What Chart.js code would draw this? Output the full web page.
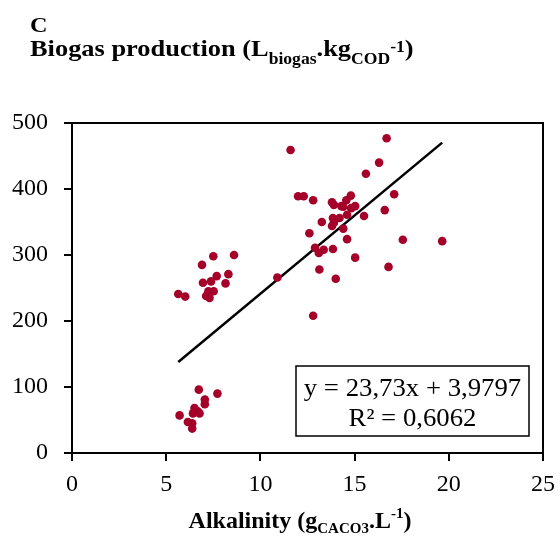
<!DOCTYPE html>
<html>
<head>
<meta charset="utf-8">
<script src="https://cdn.jsdelivr.net/npm/chart.js@4"></script>
<style>
  body { margin: 0; background: #fff; }
  #wrap { width: 560px; height: 544px; position: relative; }
</style>
</head>
<body>
<div id="wrap"><canvas id="biogasChart"></canvas></div>
<script>
// valeurs (alcalinite g/L, biogaz L/kg DCO)
const alkalinity = [
    6.73, 7.72, 7.05, 7.05, 6.5, 6.68, 6.42, 6.77, 5.71, 6.15, 6.38, 6.38,
    7.5, 8.6, 6.9, 7.68, 8.3, 6.95, 7.38, 8.15, 5.64, 6.01, 7.12, 7.3, 7.52, 7.24, 10.9,
    11.6, 16.7, 16.3, 15.6, 12.0, 12.3, 12.8, 17.1, 14.8, 13.8, 13.9, 14.56, 14.3, 14.4,
    14.82, 15.03, 16.6, 14.6, 13.85, 14.2, 15.5, 13.26, 13.8, 13.9, 14.4, 12.6, 14.6,
    17.56, 19.65, 12.9, 13.1, 13.36, 13.85, 15.03, 16.8, 13.13, 14.0, 12.8
];
const biogas = [
    96, 90, 81, 74, 68, 63, 60, 60, 57, 47, 45, 37,
    298, 300, 285, 268, 271, 258, 260, 257, 241, 237, 238, 235, 245, 245, 266,
    459, 477, 440, 423, 389, 389, 383, 392, 390, 380, 376, 383, 374, 373,
    371, 374, 368, 361, 356, 356, 359, 350, 344, 349, 340, 333, 324,
    323, 321, 311, 303, 308, 309, 296, 282, 278, 264, 208
];
// droite de tendance (extremites lues)
const trendX = [5.64, 19.65];
const trendY = [137.8, 470.3];
const xTicks = [0, 5, 10, 15, 20, 25];
const yTicks = [0, 100, 200, 300, 400, 500];
const equationLines = ['y = 23,73x + 3,9797', 'R² = 0,6062'];

const SERIF = '"Liberation Serif", "Times New Roman", serif';

// texte avec indices / exposants, sx = etirement horizontal (la figure d'origine est etiree)
function drawRuns(c, x, y, runs, align, sx) {
    sx = sx || 1;
    let total = 0;
    runs.forEach(r => {
        c.font = (r.bold ? 'bold ' : '') + r.size + 'px ' + SERIF;
        r.w = c.measureText(r.t).width;
        total += r.w;
    });
    c.save();
    c.translate(align === 'center' ? x - total * sx / 2 : x, y);
    c.scale(sx, 1);
    c.textAlign = 'left';
    c.textBaseline = 'alphabetic';
    let cx = 0;
    runs.forEach(r => {
        c.font = (r.bold ? 'bold ' : '') + r.size + 'px ' + SERIF;
        c.fillText(r.t, cx, r.dy || 0);
        cx += r.w;
    });
    c.restore();
}

const extras = {
    id: 'extras',
    afterDraw(chart) {
        const c = chart.ctx;
        const a = chart.chartArea;
        c.save();
        c.fillStyle = '#000';
        c.strokeStyle = '#000';
        // cadre haut + droite
        c.lineWidth = 2;
        c.strokeRect(a.left, a.top, a.right - a.left, a.bottom - a.top);

        // titre
        drawRuns(c, 30, 32, [{ t: 'C', size: 22, bold: true }], 'left', 1.1);
        drawRuns(c, 30, 56, [
            { t: 'Biogas production (L', size: 24, bold: true },
            { t: 'biogas', size: 16, bold: true, dy: 8 },
            { t: '.kg', size: 24, bold: true },
            { t: 'COD', size: 16, bold: true, dy: 8 },
            { t: '-1', size: 16, bold: true, dy: -4 },
            { t: ')', size: 24, bold: true }
        ], 'left', 1.1);

        // titre axe x
        drawRuns(c, a.left + 228, 528, [
            { t: 'Alkalinity (g', size: 24, bold: true },
            { t: 'CACO3', size: 15, bold: true, dy: 5 },
            { t: '.L', size: 24, bold: true },
            { t: '-1', size: 15, bold: true, dy: -10 },
            { t: ')', size: 24, bold: true }
        ], 'center', 1);

        // boite equation
        const bx = a.right - 247, by = a.bottom - 87, bw = 233, bh = 70;
        c.lineWidth = 1.5;
        c.strokeRect(bx, by, bw, bh);
        drawRuns(c, bx + bw / 2, by + 30, [{ t: equationLines[0], size: 25 }], 'center', 1.07);
        drawRuns(c, bx + bw / 2, by + 60, [{ t: equationLines[1], size: 25 }], 'center', 1.07);
        c.restore();
    }
};

const ctx = document.getElementById('biogasChart').getContext('2d');
const biogasChart = new Chart(ctx, {
    type: 'scatter',
    data: {
        datasets: [{
            label: 'Biogas',
            data: alkalinity.map((v, i) => ({ x: v, y: biogas[i] })),
            backgroundColor: '#A5002A',
            borderColor: '#A5002A',
            pointRadius: 4.3,
            pointBorderWidth: 0
        }, {
            label: 'Trend',
            type: 'line',
            data: trendX.map((v, i) => ({ x: v, y: trendY[i] })),
            borderColor: '#000',
            borderWidth: 2.5,
            pointRadius: 0,
            fill: false,
            tension: 0
        }]
    },
    options: {
        responsive: true,
        maintainAspectRatio: false,
        animation: false,
        layout: { padding: { top: 123, right: 17, left: 0, bottom: 0 } },
        scales: {
            x: {
                type: 'linear',
                min: 0, max: 25,
                afterBuildTicks: s => { s.ticks = xTicks.map(v => ({ value: v })); },
                afterFit: s => { s.height = 91; s.paddingLeft = 0; s.paddingRight = 0; },
                grid: { drawOnChartArea: false, color: '#000', lineWidth: 2, tickLength: 8 },
                border: { color: '#000', width: 2 },
                ticks: { color: '#000', font: { family: SERIF, size: 24 }, padding: 9, maxRotation: 0 }
            },
            y: {
                min: 0, max: 500,
                afterBuildTicks: s => { s.ticks = yTicks.map(v => ({ value: v })); },
                afterFit: s => { s.width = 72; s.paddingTop = 0; s.paddingBottom = 0; },
                grid: { drawOnChartArea: false, color: '#000', lineWidth: 2, tickLength: 8 },
                border: { color: '#000', width: 2 },
                ticks: { color: '#000', font: { family: SERIF, size: 24 }, padding: 16 }
            }
        },
        plugins: {
            legend: { display: false },
            tooltip: { enabled: false }
        }
    },
    plugins: [extras]
});
</script>
</body>
</html>
